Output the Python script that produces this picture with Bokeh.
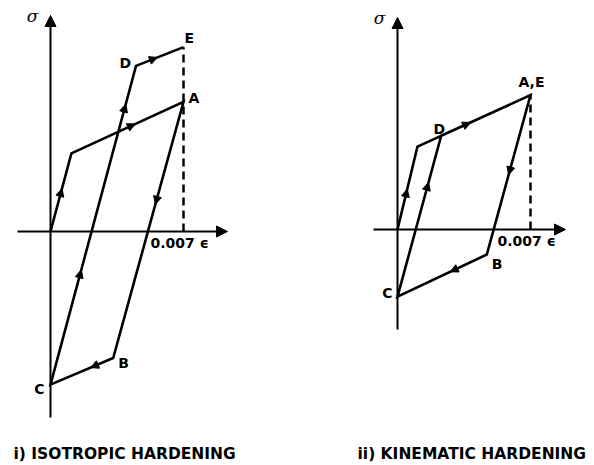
from bokeh.plotting import figure
from bokeh.layouts import row
from bokeh.models import Arrow, NormalHead, Label, Range1d
from bokeh.embed import file_html
from bokeh.resources import INLINE

# ---- data: strain (-) and stress (MPa) at the turning points of each cycle ----
iso_labels = ["O", "Y", "A", "B", "C", "D", "E"]
iso_strain = [0.0, 0.0011, 0.0070, 0.0033, 0.0, 0.0045, 0.0070]
iso_stress = [0.0, 250.0, 415.0, -405.0, -490.0, 530.0, 590.0]

kin_labels = ["O", "Y", "A", "B", "C", "D", "E"]
kin_strain = [0.0, 0.00105, 0.0070, 0.0047, 0.0, 0.0023, 0.0070]
kin_stress = [0.0, 265.0, 430.0, -80.0, -215.0, 300.0, 430.0]

strain_mark = 0.007
strain_mark_text = "0.007  ϵ"

# direction arrows: (segment start index, fraction along the segment)
iso_arrows = [(0, 0.55), (1, 0.57), (2, 0.40), (3, 0.36), (4, 0.36), (4, 0.88), (5, 0.45)]
kin_arrows = [(0, 0.49), (1, 0.47), (2, 0.50), (3, 0.41), (4, 0.71)]

FONT = "DejaVu Sans"
W, H = 297, 465
STRAIN_PER_PX = 1.0 / 19000.0
STRESS_PER_PX = 3.2


def make_panel(strain, stress, arrows, origin_px, axis_px, title, title_x, labels):
    ox, oy = origin_px
    p = figure(width=W, height=H, output_backend="svg", toolbar_location=None,
               x_axis_type=None, y_axis_type=None, min_border=0,
               x_range=Range1d(-ox * STRAIN_PER_PX, (W - ox) * STRAIN_PER_PX),
               y_range=Range1d((oy - H) * STRESS_PER_PX, oy * STRESS_PER_PX))
    p.grid.visible = False
    p.outline_line_color = None
    p.background_fill_color = "white"
    p.border_fill_color = "white"

    # axes with arrow tips
    xl, xr, yb, yt = axis_px
    ax_head = dict(size=11, fill_color="black", line_color="black", line_width=1)
    p.add_layout(Arrow(end=NormalHead(**ax_head),
                       x_start=(xl - ox) * STRAIN_PER_PX, y_start=0,
                       x_end=(xr - ox) * STRAIN_PER_PX, y_end=0,
                       line_width=2, line_color="black"))
    p.add_layout(Arrow(end=NormalHead(**ax_head),
                       x_start=0, y_start=(oy - yb) * STRESS_PER_PX,
                       x_end=0, y_end=(oy - yt) * STRESS_PER_PX,
                       line_width=2, line_color="black"))

    # dashed drop line at the strain limit
    top = max(s for e, s in zip(strain, stress) if abs(e - strain_mark) < 1e-9)
    p.line([strain_mark, strain_mark], [0, top], line_color="black",
           line_width=2.5, line_dash="8 5")

    # loading path
    p.line(strain, stress, line_color="black", line_width=2.6, line_join="miter")

    # direction arrows along the path
    for i, t in arrows:
        e0, s0 = strain[i], stress[i]
        e1, s1 = strain[i + 1], stress[i + 1]
        ta = t - 0.03
        p.add_layout(Arrow(end=NormalHead(size=8, fill_color="black", line_color="black", line_width=1),
                           x_start=e0 + ta * (e1 - e0), y_start=s0 + ta * (s1 - s0),
                           x_end=e0 + t * (e1 - e0), y_end=s0 + t * (s1 - s0),
                           line_alpha=0))

    # point letters
    for text, (e, s), dx, dy, align in labels:
        p.add_layout(Label(x=e, y=s, text=text, x_offset=dx, y_offset=dy,
                           text_align=align, text_baseline="middle",
                           text_font=FONT, text_font_style="bold",
                           text_font_size="14px", text_color="black"))

    # sigma at the top of the stress axis
    p.add_layout(Label(x=0, y=(oy - yt) * STRESS_PER_PX, text="σ", x_offset=-18, y_offset=0,
                       text_align="center", text_baseline="middle",
                       text_font="DejaVu Serif", text_font_style="italic",
                       text_font_size="17px", text_color="black"))

    # strain mark text
    p.add_layout(Label(x=strain_mark, y=0, text=strain_mark_text,
                       x_offset=-33, y_offset=-11, text_align="left", text_baseline="middle",
                       text_font=FONT, text_font_style="bold",
                       text_font_size="14px", text_color="black"))

    # caption
    p.add_layout(Label(x=title_x, y=12, x_units="screen", y_units="screen", text=title,
                       text_align="left", text_baseline="middle",
                       text_font=FONT, text_font_style="bold",
                       text_font_size="15.5px", text_color="black"))
    return p


iso_pts = dict(zip(iso_labels, zip(iso_strain, iso_stress)))
kin_pts = dict(zip(kin_labels, zip(kin_strain, kin_stress)))

left = make_panel(
    iso_strain, iso_stress, iso_arrows, origin_px=(50, 231), axis_px=(17, 227, 417, 15),
    title="i) ISOTROPIC HARDENING", title_x=13,
    labels=[("A", iso_pts["A"], 5, 4, "left"),
            ("E", iso_pts["E"], 1, 9, "left"),
            ("D", iso_pts["D"], -5, 3, "right"),
            ("B", iso_pts["B"], 5, -5, "left"),
            ("C", iso_pts["C"], -6, -4, "right")])

# right panel pixel positions are relative to its own left edge
right = make_panel(
    kin_strain, kin_stress, kin_arrows, origin_px=(100, 229), axis_px=(76, 268, 329, 17),
    title="ii) KINEMATIC HARDENING", title_x=60,
    labels=[("A,E", kin_pts["A"], 1, 13, "center"),
            ("D", kin_pts["D"], -2, 7, "center"),
            ("B", kin_pts["B"], 5, -9, "left"),
            ("C", kin_pts["C"], -5, 4, "right")])

layout = row(left, right, spacing=0)
open("out.html", "w").write(file_html(layout, INLINE))
